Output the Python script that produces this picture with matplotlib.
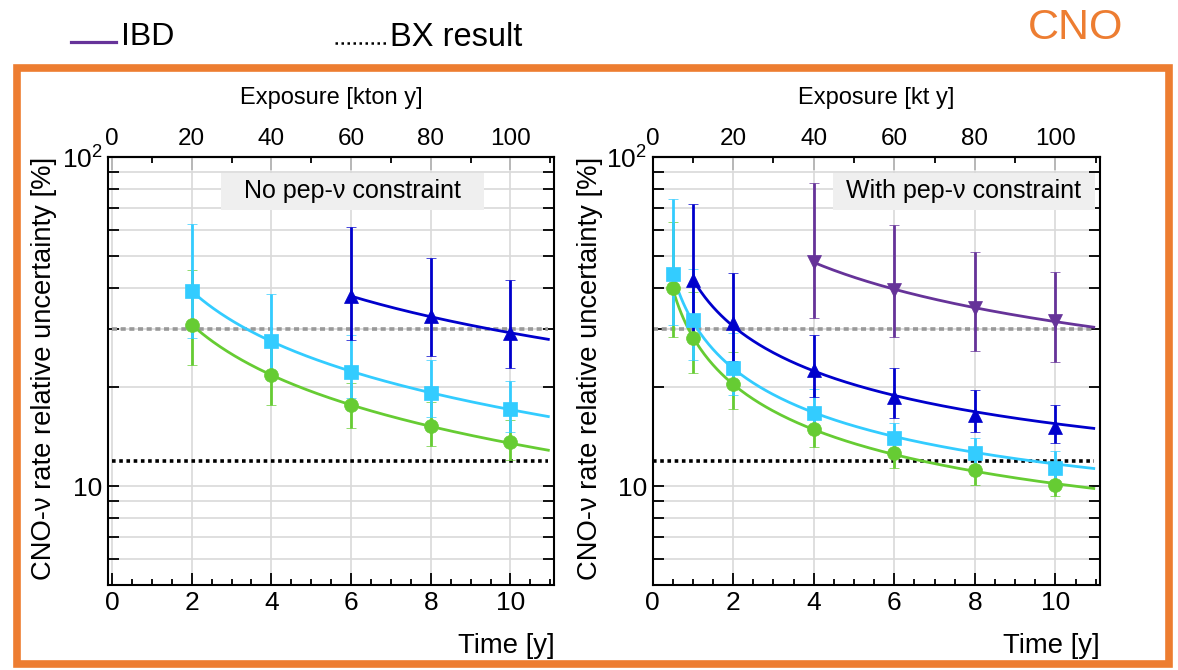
import numpy as np
import matplotlib
matplotlib.use("Agg")
import matplotlib.pyplot as plt
from matplotlib.ticker import FixedLocator, MultipleLocator, LogLocator, NullFormatter, FixedFormatter
from matplotlib.patches import Rectangle
from matplotlib.lines import Line2D

plt.rcParams['font.family'] = ['Liberation Sans', 'DejaVu Sans']
plt.rcParams['mathtext.fontset'] = 'custom'
plt.rcParams['mathtext.rm'] = 'Liberation Sans'
plt.rcParams['mathtext.default'] = 'regular'

# ---------------- data: left panel (no pep constraint) ----------------
t_left = [2, 4, 6, 8, 10]
green_left = [31.0, 21.7, 17.6, 15.2, 13.6]
green_left_hi = [45.4, 27.5, 20.6, 18.0, 15.9]
green_left_lo = [23.3, 17.7, 15.0, 13.2, 12.0]
lblue_left = [39.2, 27.6, 22.2, 19.2, 17.2]
lblue_left_hi = [62.6, 38.3, 28.8, 24.2, 20.8]
lblue_left_lo = [28.3, 21.6, 18.5, 16.2, 14.6]
t_left_dblue = [6, 8, 10]
dblue_left = [37.8, 32.8, 29.2]
dblue_left_hi = [61.2, 49.5, 42.3]
dblue_left_lo = [27.8, 24.8, 22.9]

# ---------------- data: right panel (with pep constraint) ----------------
t_right = [0.5, 1, 2, 4, 6, 8, 10]
green_right = [39.9, 28.2, 20.4, 14.9, 12.6, 11.2, 10.1]
green_right_hi = [63.7, 39.0, 25.6, 17.0, 14.0, 12.5, 11.1]
green_right_lo = [28.5, 22.1, 17.1, 13.1, 11.35, 10.1, 9.3]
lblue_right = [44.1, 32.0, 22.8, 16.7, 14.0, 12.6, 11.35]
lblue_right_hi = [74.5, 45.7, 29.2, 19.8, 15.5, 14.0, 12.8]
lblue_right_lo = [31.0, 24.2, 18.9, 14.6, 12.3, 11.4, 10.4]
t_right_dblue = [1, 2, 4, 6, 8, 10]
dblue_right = [42.3, 31.4, 22.5, 18.7, 16.4, 15.1]
dblue_right_hi = [72.1, 44.6, 28.8, 22.9, 19.6, 17.7]
dblue_right_lo = [28.0, 24.0, 18.7, 16.1, 14.6, 13.5]
t_right_ibd = [4, 6, 8, 10]
ibd_right = [48.0, 39.4, 34.9, 31.8]
ibd_right_hi = [83.7, 62.1, 51.5, 44.9]
ibd_right_lo = [32.5, 28.5, 25.7, 23.9]

# reference levels
bx_result = 11.9
earlier_level = 30.0

# tick values
exposure_ticks = [0, 20, 40, 60, 80, 100]
exposure_minor = [10, 30, 50, 70, 90, 110]

panel_titles = ["No pep-ν constraint", "With pep-ν constraint"]
top_labels = ["Exposure [kton y]", "Exposure [kt y]"]
ylabel = "CNO-ν rate relative uncertainty [%]"
xlabel = "Time [y]"

GREEN = '#66cc33'
LBLUE = '#33ccff'
DBLUE = '#0000cc'
PURPLE = '#663399'
ORANGE = '#ed7d31'

W, H = 1178, 670
fig = plt.figure(figsize=(W / 100, H / 100), dpi=100)


def fx(px):
    return px / W


def fy(py):
    return 1 - py / H


def fit_curve(t, y, t_end=10.95):
    t = np.asarray(t, float)
    y = np.asarray(y, float)
    A = np.vstack([1.0 / t, np.ones_like(t)]).T
    coef, *_ = np.linalg.lstsq(A, y ** 2, rcond=None)
    tt = np.linspace(t.min(), t_end, 200)
    return tt, np.sqrt(coef[0] / tt + coef[1])


def series(ax, t, y, hi, lo, color, marker, ms):
    y = np.asarray(y)
    yerr = [y - np.asarray(lo), np.asarray(hi) - y]
    tt, yy = fit_curve(t, y)
    ax.plot(tt, yy, color=color, lw=2.0, zorder=3)
    ax.errorbar(t, y, yerr=yerr, fmt=marker, color=color, ms=ms, elinewidth=2.0,
                capsize=3.3, capthick=2, zorder=4, mec=color, mfc=color, mew=0.5)


axes_px = [(108, 554.3, -0.1), (652.6, 1099.8, 0.0)]
top_px, bot_px = 157.3, 585

axs = []
for i, (l, r, xmin) in enumerate(axes_px):
    ax = fig.add_axes([fx(l), fy(bot_px), (r - l) / W, (bot_px - top_px) / H])
    axs.append(ax)
    ax.set_yscale('log')
    ax.set_ylim(5, 100)
    ax.set_xlim(xmin, 11.1)
    ax.yaxis.set_major_locator(FixedLocator([10, 100]))
    ax.yaxis.set_major_formatter(FixedFormatter(['10', '10$^2$']))
    ax.yaxis.set_minor_locator(LogLocator(base=10, subs=np.arange(2, 10)))
    ax.yaxis.set_minor_formatter(NullFormatter())
    ax.xaxis.set_major_locator(FixedLocator([0, 2, 4, 6, 8, 10]))
    ax.xaxis.set_minor_locator(MultipleLocator(0.5))
    ax.grid(which='both', axis='y', color='#d9d9d9', lw=1.2, zorder=0)
    ax.grid(which='major', axis='x', color='#d9d9d9', lw=1.2, zorder=0)
    ax.set_axisbelow(True)
    ax.tick_params(axis='x', which='both', direction='in', top=False, bottom=True,
                   labelsize=19, pad=4, width=1.3)
    ax.tick_params(axis='x', which='major', length=9)
    ax.tick_params(axis='x', which='minor', length=4.5)
    ax.tick_params(axis='y', which='both', direction='in', left=True, right=True,
                   labelsize=19, pad=4, width=1.3, length=8)
    for s in ax.spines.values():
        s.set_linewidth(1.5)

    sec = ax.secondary_xaxis('top', functions=(lambda t: 10 * t, lambda e: e / 10))
    sec.xaxis.set_major_locator(FixedLocator(exposure_ticks))
    sec.xaxis.set_minor_locator(FixedLocator(exposure_minor))
    sec.tick_params(which='both', direction='in', labelsize=17.5, pad=5, width=1.3)
    sec.tick_params(which='major', length=9)
    sec.tick_params(which='minor', length=4.5)
    sec.spines['top'].set_linewidth(1.5)

    # reference lines
    ax.plot([0, 10.95], [earlier_level, earlier_level], color='#999999', lw=2.6,
            ls=(0, (1.4, 1.0)), zorder=2)
    ax.plot([0, 10.95], [bx_result, bx_result], color='black', lw=2.6,
            ls=(0, (1.0, 1.0)), zorder=2)

    # label box
    bx0, bx1 = [(221.3, 484.3), (832.5, 1094.9)][i]
    rx0 = (bx0 - l) / (r - l)
    rx1 = (bx1 - l) / (r - l)
    ry0 = (bot_px - 210) / (bot_px - top_px)
    ry1 = (bot_px - 172.7) / (bot_px - top_px)
    ax.add_patch(Rectangle((rx0, ry0), rx1 - rx0, ry1 - ry0, transform=ax.transAxes,
                           facecolor='#efefef', edgecolor='none', zorder=1))
    ax.text((rx0 + rx1) / 2, (ry0 + ry1) / 2, panel_titles[i], transform=ax.transAxes,
            ha='center', va='center', fontsize=18, zorder=5)

    # axis labels
    fig.text(fx((l + r) / 2), fy(104.3), top_labels[i], ha='center', va='baseline', fontsize=17)
    fig.text(fx(r), fy(652.7), xlabel, ha='right', va='baseline', fontsize=19.8)
    fig.text(fx([44, 590][i]), fy(368), ylabel, rotation=90, ha='center', va='center',
             fontsize=19.7)

axL, axR = axs
series(axL, t_left, green_left, green_left_hi, green_left_lo, GREEN, 'o', 10)
series(axL, t_left, lblue_left, lblue_left_hi, lblue_left_lo, LBLUE, 's', 10.5)
series(axL, t_left_dblue, dblue_left, dblue_left_hi, dblue_left_lo, DBLUE, '^', 10)

series(axR, t_right, green_right, green_right_hi, green_right_lo, GREEN, 'o', 10)
series(axR, t_right, lblue_right, lblue_right_hi, lblue_right_lo, LBLUE, 's', 10.5)
series(axR, t_right_dblue, dblue_right, dblue_right_hi, dblue_right_lo, DBLUE, '^', 10)
series(axR, t_right_ibd, ibd_right, ibd_right_hi, ibd_right_lo, PURPLE, 'v', 10)

# top legend
fig.add_artist(Line2D([fx(71), fx(116)], [fy(42), fy(42)], color=PURPLE, lw=2.3))
fig.text(fx(121), fy(37), "IBD", ha='left', va='center', fontsize=23)
fig.add_artist(Line2D([fx(335), fx(386)], [fy(43), fy(43)], color='black', lw=1.8,
                      ls=(0, (1, 1.4))))
fig.text(fx(390), fy(37), "BX result", ha='left', va='center', fontsize=23.5)
fig.text(fx(1076), fy(28), "CNO", ha='center', va='center', fontsize=31, color=ORANGE)

# orange frame
fig.add_artist(Rectangle((fx(17), fy(664)), fx(1169 - 17), (664 - 67.5) / H,
                         transform=fig.transFigure, fill=False, edgecolor=ORANGE, lw=5.5))

fig.savefig('out.png', dpi=100)
